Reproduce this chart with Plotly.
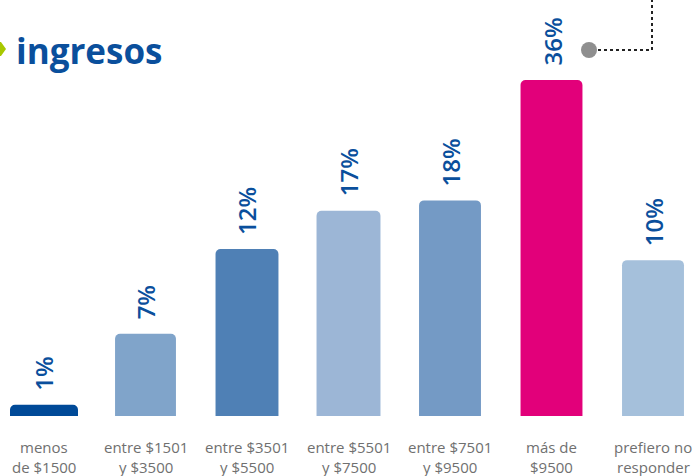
import plotly.graph_objects as go

# ---- data ----
categories = ["menos<br>de $1500", "entre $1501<br>y $3500", "entre $3501<br>y $5500",
              "entre $5501<br>y $7500", "entre $7501<br>y $9500", "más de<br>$9500",
              "prefiero no<br>responder"]
pct_labels = ["1%", "7%", "12%", "17%", "18%", "36%", "10%"]
# drawn bar heights (infographic, not to scale)
bar_heights = [1.2, 8.8, 17.9, 22.0, 23.1, 36.0, 16.7]
bar_widths = [0.67, 0.60, 0.62, 0.63, 0.61, 0.61, 0.61]
bar_colors = ["#004a98", "#80a4ca", "#4f80b5", "#9cb6d6", "#749ac5", "#e2007a", "#a5c0db"]
title = "ingresos"

xs = list(range(len(categories)))

fig = go.Figure()
fig.add_trace(go.Bar(
    x=xs, y=bar_heights, width=bar_widths,
    marker=dict(color=bar_colors, line=dict(width=0), cornerradius=5),
    hoverinfo="skip",
))

blue = "#0a4f9c"
ann = []
for x, h, t in zip(xs, bar_heights, pct_labels):
    ann.append(dict(x=x, y=h, xref="x", yref="y", text=t, textangle=-90,
                    showarrow=False, xanchor="center", yanchor="bottom", yshift=12,
                    font=dict(family="Open Sans", size=24, color=blue, weight=600)))
for x, c in zip(xs, categories):
    lines = c.split("<br>")
    for i, ln in enumerate(lines):
        ann.append(dict(x=x, y=0, xref="x", yref="y", text=ln, showarrow=False,
                        xanchor="center", yanchor="middle", yshift=-31 - 20 * i,
                        font=dict(family="Open Sans", size=15, color="#707070")))
ann.append(dict(x=14 / 693, y=1 - 51 / 476, xref="paper", yref="paper", text="<b>" + title + "</b>",
                showarrow=False, xanchor="left", yanchor="middle",
                font=dict(family="Open Sans", size=35, color=blue)))

shapes = [
    # chevron
    dict(type="path", xref="paper", yref="paper",
         path=f"M 0 {1-42/476} L {1/693} {1-42/476} L {6/693} {1-49/476} L {1/693} {1-56/476} L 0 {1-56/476} Z",
         fillcolor="#a8c800", line=dict(width=0)),
    # dotted connector
    dict(type="line", xref="paper", yref="paper", x0=598 / 693, y0=1 - 50 / 476, x1=652 / 693, y1=1 - 50 / 476,
         line=dict(color="#222222", width=2, dash="dot")),
    dict(type="line", xref="paper", yref="paper", x0=652 / 693, y0=1 - 50 / 476, x1=652 / 693, y1=1.0,
         line=dict(color="#222222", width=2, dash="dot")),
    dict(type="circle", xref="paper", yref="paper", x0=581 / 693, x1=597 / 693,
         y0=1 - 58 / 476, y1=1 - 42 / 476, fillcolor="#8f8f8f", line=dict(width=0)),
]

px_per_unit = 336 / 36.0
fig.update_layout(
    width=693, height=476,
    margin=dict(l=0, r=0, t=0, b=0),
    paper_bgcolor="white", plot_bgcolor="white",
    showlegend=False,
    xaxis=dict(range=[-44 / 101.5, (693 - 44) / 101.5], visible=False, fixedrange=True),
    yaxis=dict(range=[(416 - 476) / px_per_unit, 416 / px_per_unit], visible=False, fixedrange=True),
    annotations=ann, shapes=shapes,
)
fig.write_html("out.html", config={"displayModeBar": False},
               post_script="document.body.style.margin='0';document.body.style.overflow='hidden';")
